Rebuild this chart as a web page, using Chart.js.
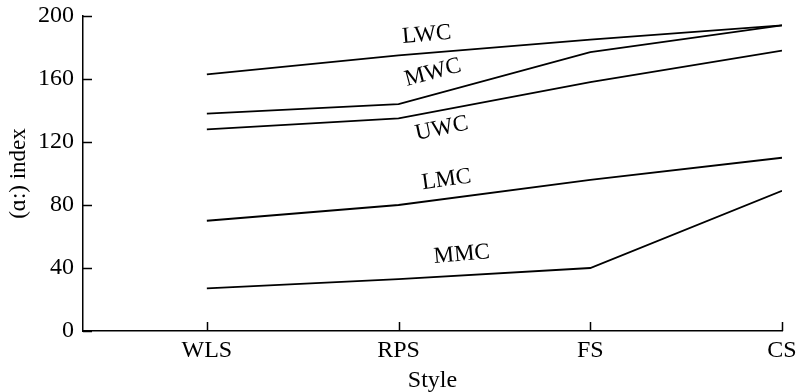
<!DOCTYPE html>
<html>
<head>
<meta charset="utf-8">
<script src="https://cdn.jsdelivr.net/npm/chart.js@4"></script>
<style>
html,body{margin:0;padding:0;background:#fff;}
#wrap{width:798px;height:392px;}
</style>
</head>
<body>
<div id="wrap"><canvas id="c" width="798" height="392"></canvas></div>
<script>
const categories = ["WLS", "RPS", "FS", "CS"];
const seriesNames = ["LWC", "MWC", "UWC", "LMC", "MMC"];
const LWC = [163, 175, 185, 194];
const MWC = [138, 144, 177, 194];
const UWC = [128, 135, 158, 178];
const LMC = [70, 80, 96, 110];
const MMC = [27, 33, 40, 89];
const yTicks = [0, 40, 80, 120, 160, 200];
// label anchor positions in data space [x (category index), y, rotation deg]
const labelPos = {
  LWC: [1.147, 188, -5],
  MWC: [1.18, 164, -15],
  UWC: [1.225, 128.5, -12],
  LMC: [1.25, 96, -8],
  MMC: [1.33, 48.5, -5]
};
const seriesValues = {LWC, MWC, UWC, LMC, MMC};

const FONT = "'Liberation Serif', 'Times New Roman', serif";

const datasets = seriesNames.map(n => ({
  label: n,
  data: seriesValues[n].map((v, i) => ({x: i, y: v})),
  borderColor: '#000',
  borderWidth: 1.8,
  pointRadius: 0,
  fill: false,
  tension: 0
}));

const decor = {
  id: 'decor',
  afterDraw(chart) {
    const ctx = chart.ctx;
    const xs = chart.scales.x, ys = chart.scales.y;
    const a = chart.chartArea;
    ctx.save();
    ctx.strokeStyle = '#000';
    ctx.lineWidth = 1.5;
    ctx.beginPath();
    yTicks.forEach(v => {
      const py = Math.round(ys.getPixelForValue(v)) + 0.5;
      ctx.moveTo(a.left, py); ctx.lineTo(a.left + 9, py);
    });
    categories.forEach((c, i) => {
      const px = Math.round(xs.getPixelForValue(i)) + 0.5;
      ctx.moveTo(px, a.bottom); ctx.lineTo(px, a.bottom - 9);
    });
    ctx.stroke();
    ctx.fillStyle = '#000';
    ctx.font = "23px " + FONT;
    ctx.textAlign = 'center';
    ctx.textBaseline = 'middle';
    seriesNames.forEach(n => {
      const [lx, ly, rot] = labelPos[n];
      ctx.save();
      ctx.translate(xs.getPixelForValue(lx), ys.getPixelForValue(ly));
      ctx.rotate(rot * Math.PI / 180);
      ctx.fillText(n, 0, 0);
      ctx.restore();
    });
    ctx.restore();
  }
};

new Chart(document.getElementById('c'), {
  type: 'line',
  data: {datasets},
  options: {
    responsive: false,
    animation: false,
    devicePixelRatio: 1,
    layout: {padding: {top: 16, right: 16, left: 0, bottom: 0}},
    plugins: {legend: {display: false}, tooltip: {enabled: false}},
    scales: {
      x: {
        type: 'linear',
        min: -0.646,
        max: 3,
        afterBuildTicks: s => { s.ticks = categories.map((c, i) => ({value: i})); },
        afterFit: s => { s.height = 61; s.paddingLeft = 0; s.paddingRight = 0; },
        ticks: {
          callback: v => categories[v] !== undefined ? categories[v] : '',
          color: '#000',
          font: {family: FONT, size: 24},
          padding: 5,
          maxRotation: 0,
          autoSkip: false
        },
        grid: {display: false, drawTicks: false},
        border: {display: true, color: '#000', width: 1.5},
        title: {display: true, text: 'Style', color: '#000', font: {family: FONT, size: 24}, padding: {top: 0, bottom: -3}}
      },
      y: {
        min: 0,
        max: 200,
        afterBuildTicks: s => { s.ticks = yTicks.map(v => ({value: v})); },
        afterFit: s => { s.width = 83; s.paddingTop = 0; s.paddingBottom = 0; },
        ticks: {
          color: '#000',
          font: {family: FONT, size: 24},
          padding: 9
        },
        grid: {display: false, drawTicks: false},
        border: {display: true, color: '#000', width: 1.5},
        title: {display: true, text: '(ɑ:) index', color: '#000', font: {family: FONT, size: 23}, padding: {top: 5, bottom: 0}}
      }
    }
  },
  plugins: [decor]
});
</script>
</body>
</html>
